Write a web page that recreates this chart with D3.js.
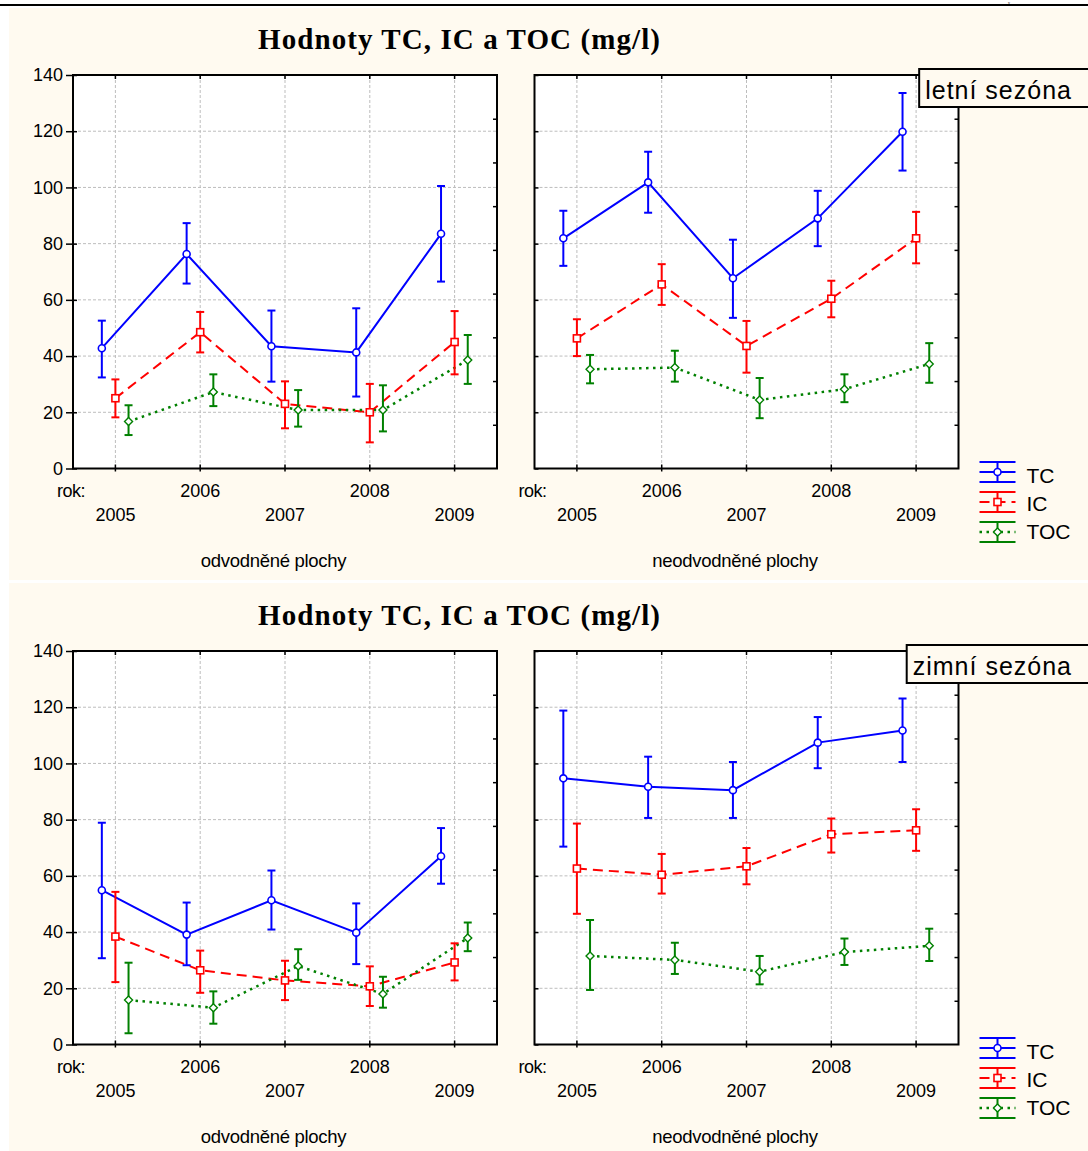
<!DOCTYPE html>
<html>
<head>
<meta charset="utf-8">
<script src="https://cdn.jsdelivr.net/npm/d3@7"></script>
<style>
  body { margin: 0; background: #fff; }
  svg text { font-family: "Liberation Sans", Arial, sans-serif; fill: #000; }
</style>
</head>
<body>
<svg id="chart" width="1088" height="1151"></svg>
<script>
// ---- data ----
const years = [2005, 2006, 2007, 2008, 2009];
const yTicks = [0, 20, 40, 60, 80, 100, 120, 140];
const gridValues = [20, 40, 60, 80, 100, 120];
const seriesNames = ["TC", "IC", "TOC"];
const seasonLabels = ["letní sezóna", "zimní sezóna"];
const areaLabels = ["odvodněné plochy", "neodvodněné plochy"];
const chartTitle = "Hodnoty TC, IC a TOC (mg/l)";

// summer season, drained plots
const letniOdvTC = [42.8, 76.3, 43.5, 41.3, 83.5];
const letniOdvTCLo = [32.4, 65.8, 30.9, 25.6, 66.5];
const letniOdvTCHi = [52.6, 87.3, 56.2, 57.0, 100.5];
const letniOdvIC = [25.0, 48.5, 23.0, 20.0, 45.0];
const letniOdvICLo = [18.2, 41.3, 14.3, 9.3, 33.5];
const letniOdvICHi = [31.7, 55.7, 31.0, 30.1, 56.0];
const letniOdvTOC = [16.7, 27.2, 20.8, 20.8, 38.6];
const letniOdvTOCLo = [11.9, 22.2, 14.9, 13.2, 30.1];
const letniOdvTOCHi = [22.5, 33.5, 27.9, 29.6, 47.5];

// summer season, undrained plots
const letniNeoTC = [81.9, 101.8, 67.7, 89.0, 119.8];
const letniNeoTCLo = [72.1, 91.0, 53.6, 79.1, 106.0];
const letniNeoTCHi = [91.7, 112.7, 81.4, 98.8, 133.6];
const letniNeoIC = [46.3, 65.5, 43.6, 60.4, 81.9];
const letniNeoICLo = [40.0, 58.2, 34.1, 53.8, 73.0];
const letniNeoICHi = [53.1, 72.7, 52.5, 66.8, 91.3];
const letniNeoTOC = [35.3, 35.9, 24.4, 28.2, 37.2];
const letniNeoTOCLo = [30.3, 30.9, 17.9, 23.6, 30.5];
const letniNeoTOCHi = [40.4, 41.9, 32.2, 33.5, 44.6];

// winter season, drained plots
const zimniOdvTC = [54.9, 39.1, 51.3, 39.8, 67.0];
const zimniOdvTCLo = [30.7, 28.2, 40.9, 28.6, 57.2];
const zimniOdvTCHi = [78.9, 50.5, 61.9, 50.2, 77.0];
const zimniOdvIC = [38.4, 26.4, 22.8, 20.7, 29.2];
const zimniOdvICLo = [22.2, 18.4, 15.8, 13.7, 22.8];
const zimniOdvICHi = [54.3, 33.4, 29.8, 27.8, 36.0];
const zimniOdvTOC = [15.8, 13.1, 27.9, 18.0, 37.9];
const zimniOdvTOCLo = [4.0, 7.4, 23.0, 13.1, 33.2];
const zimniOdvTOCHi = [29.1, 18.9, 33.9, 24.1, 43.4];

// winter season, undrained plots
const zimniNeoTC = [94.7, 91.7, 90.5, 107.4, 111.7];
const zimniNeoTCLo = [70.4, 80.6, 80.6, 98.3, 100.5];
const zimniNeoTCHi = [118.8, 102.4, 100.5, 116.5, 123.1];
const zimniNeoIC = [62.6, 60.4, 63.4, 74.8, 76.2];
const zimniNeoICLo = [46.5, 53.7, 57.0, 68.3, 68.9];
const zimniNeoICHi = [78.6, 67.8, 69.9, 80.4, 83.7];
const zimniNeoTOC = [31.5, 30.1, 25.9, 32.9, 35.1];
const zimniNeoTOCLo = [19.4, 25.1, 21.4, 28.3, 29.7];
const zimniNeoTOCHi = [44.3, 36.2, 31.5, 37.7, 41.2];

function trio(tc, tcLo, tcHi, ic, icLo, icHi, toc, tocLo, tocHi) {
  return [
    { name: "TC", mean: tc, lo: tcLo, hi: tcHi },
    { name: "IC", mean: ic, lo: icLo, hi: icHi },
    { name: "TOC", mean: toc, lo: tocLo, hi: tocHi }
  ];
}

const panelData = [
  [
    trio(letniOdvTC, letniOdvTCLo, letniOdvTCHi, letniOdvIC, letniOdvICLo, letniOdvICHi, letniOdvTOC, letniOdvTOCLo, letniOdvTOCHi),
    trio(letniNeoTC, letniNeoTCLo, letniNeoTCHi, letniNeoIC, letniNeoICLo, letniNeoICHi, letniNeoTOC, letniNeoTOCLo, letniNeoTOCHi)
  ],
  [
    trio(zimniOdvTC, zimniOdvTCLo, zimniOdvTCHi, zimniOdvIC, zimniOdvICLo, zimniOdvICHi, zimniOdvTOC, zimniOdvTOCLo, zimniOdvTOCHi),
    trio(zimniNeoTC, zimniNeoTCLo, zimniNeoTCHi, zimniNeoIC, zimniNeoICLo, zimniNeoICHi, zimniNeoTOC, zimniNeoTOCLo, zimniNeoTOCHi)
  ]
];

// ---- styles / layout ----
const styles = {
  TC: { color: "#0000ff", dash: null, width: 2, marker: "circle", offset: -0.16 },
  IC: { color: "#ff0000", dash: "10,6", width: 2, marker: "square", offset: 0 },
  TOC: { color: "#008000", dash: "2.5,4.5", width: 2.5, marker: "diamond", offset: 0.155 }
};
const CREAM = "#fffaf0";
const PANEL_DY = 576;
const plotX0 = [73, 534.5];
const plotW = 424;
const plotTop = 75, plotBottom = 468.5;

const svg = d3.select("#chart");

// top rule of the page + small glyph above it
svg.append("line")
  .attr("x1", 0).attr("x2", 1088).attr("y1", 5).attr("y2", 5)
  .attr("stroke", "#000").attr("stroke-width", 2);
svg.append("text")
  .attr("x", 1008).attr("y", 3.8)
  .style("font-family", '"Liberation Serif", serif')
  .style("font-size", "4px")
  .text("y");

function drawMarker(sel, type, cx, cy, color) {
  if (type == "circle") {
    sel.append("circle").attr("cx", cx).attr("cy", cy).attr("r", 3.5)
      .attr("fill", "#fff").attr("stroke", color).attr("stroke-width", 1.6);
  } else if (type == "square") {
    sel.append("rect").attr("x", cx - 3.5).attr("y", cy - 3.5)
      .attr("width", 7).attr("height", 7)
      .attr("fill", "#fff").attr("stroke", color).attr("stroke-width", 1.6);
  } else {
    const r = 4;
    sel.append("path")
      .attr("d", `M${cx},${cy - r}L${cx + r},${cy}L${cx},${cy + r}L${cx - r},${cy}Z`)
      .attr("fill", "#fff").attr("stroke", color).attr("stroke-width", 1.4);
  }
}

function styleAxis(a) {
  a.select(".domain").remove();
  a.selectAll(".tick line").attr("stroke", "#000").attr("stroke-width", 1.5);
  a.selectAll("text").style("font-size", "18px")
    .style("font-family", '"Liberation Sans", Arial, sans-serif');
}

function drawPlot(g, dy, x0, area, series) {
  const x = d3.scaleBand().domain(years).range([x0, x0 + plotW]).padding(0);
  const y = d3.scaleLinear().domain([0, 140]).range([plotBottom + dy, plotTop + dy]);
  const y2 = d3.scaleLinear().domain([0, 9]).range([plotBottom + dy, plotTop + dy]);
  const bw = x.bandwidth();
  const xc = (d) => x(d) + bw / 2;

  g.append("rect")
    .attr("x", x0).attr("y", y(140))
    .attr("width", plotW).attr("height", y(0) - y(140))
    .attr("fill", "#fff");

  // grid
  g.selectAll(null).data(gridValues).enter().append("line")
    .attr("x1", x0).attr("x2", x0 + plotW)
    .attr("y1", (d) => y(d)).attr("y2", (d) => y(d))
    .attr("stroke", "#bdbdbd").attr("stroke-width", 1).attr("stroke-dasharray", "3,2");
  g.selectAll(null).data(years).enter().append("line")
    .attr("x1", (d) => xc(d)).attr("x2", (d) => xc(d))
    .attr("y1", y(140)).attr("y2", y(0))
    .attr("stroke", "#bdbdbd").attr("stroke-width", 1).attr("stroke-dasharray", "3,2");

  // series lines
  series.forEach(function (sr) {
    const st = styles[sr.name];
    const off = st.offset * bw;
    const pts = years.map((yr, i) => ({ x: xc(yr) + off, m: sr.mean[i], lo: sr.lo[i], hi: sr.hi[i] }));
    sr.pts = pts;
    g.append("path")
      .datum(pts)
      .attr("d", d3.line().x((d) => d.x).y((d) => y(d.m)))
      .attr("fill", "none")
      .attr("stroke", st.color)
      .attr("stroke-width", st.width)
      .attr("stroke-dasharray", st.dash);
  });

  // error bars + markers
  series.forEach(function (sr) {
    const st = styles[sr.name];
    const eg = g.append("g").attr("stroke", st.color).attr("stroke-width", 2);
    sr.pts.forEach(function (d) {
      eg.append("line").attr("x1", d.x).attr("x2", d.x).attr("y1", y(d.lo)).attr("y2", y(d.hi));
      eg.append("line").attr("x1", d.x - 4).attr("x2", d.x + 4).attr("y1", y(d.lo)).attr("y2", y(d.lo));
      eg.append("line").attr("x1", d.x - 4).attr("x2", d.x + 4).attr("y1", y(d.hi)).attr("y2", y(d.hi));
    });
  });
  series.forEach(function (sr) {
    const st = styles[sr.name];
    sr.pts.forEach((d) => drawMarker(g, st.marker, d.x, y(d.m), st.color));
  });

  // frame
  g.append("rect")
    .attr("x", x0).attr("y", y(140))
    .attr("width", plotW).attr("height", y(0) - y(140))
    .attr("fill", "none").attr("stroke", "#000").attr("stroke-width", 2);

  // left axis
  if (area == 0) {
    const la = g.append("g").attr("transform", `translate(${x0},0)`)
      .call(d3.axisLeft(y).tickValues(yTicks).tickSize(7).tickPadding(3));
    styleAxis(la);
  }
  const li = g.append("g").attr("transform", `translate(${x0},0)`)
    .call(d3.axisRight(y).tickValues(yTicks).tickSize(4).tickFormat(""));
  styleAxis(li);

  // right axis (minor scale, no labels)
  const ra = g.append("g").attr("transform", `translate(${x0 + plotW},0)`)
    .call(d3.axisLeft(y2).tickValues([1, 2, 3, 4, 5, 6, 7, 8]).tickSize(4).tickFormat(""));
  styleAxis(ra);

  // top and bottom ticks
  const ta = g.append("g").attr("transform", `translate(0,${y(140)})`)
    .call(d3.axisBottom(x).tickSize(4).tickFormat(""));
  styleAxis(ta);
  const ba = g.append("g").attr("transform", `translate(0,${y(0)})`)
    .call(d3.axisBottom(x).tickSize(3).tickFormat(""));
  styleAxis(ba);
  const bi = g.append("g").attr("transform", `translate(0,${y(0)})`)
    .call(d3.axisTop(x).tickSize(4).tickFormat(""));
  styleAxis(bi);

  // staggered year labels
  g.selectAll(null).data(years).enter().append("text")
    .attr("x", (d) => xc(d))
    .attr("y", (d, i) => (i % 2 == 0 ? 521 : 497) + dy)
    .attr("text-anchor", "middle")
    .style("font-size", "18px")
    .text((d) => d);
  g.append("text")
    .attr("x", x0 - 16).attr("y", 497 + dy)
    .style("font-size", "18px")
    .style("letter-spacing", "-0.5px")
    .text("rok:");

  g.append("text")
    .attr("x", x0 + plotW / 2 - 11.5).attr("y", 567 + dy)
    .attr("text-anchor", "middle")
    .style("font-size", "18.5px")
    .style("letter-spacing", "-0.3px")
    .text(areaLabels[area]);
}

function drawSeason(s) {
  const dy = s * PANEL_DY;
  const g = svg.append("g");

  g.append("rect")
    .attr("x", 9).attr("y", 8 + s * 575)
    .attr("width", 1079).attr("height", 572)
    .attr("fill", CREAM);

  g.append("text")
    .attr("x", 459).attr("y", 49 + dy)
    .attr("text-anchor", "middle")
    .attr("textLength", 402)
    .attr("lengthAdjust", "spacing")
    .style("font-family", '"Liberation Serif", "Times New Roman", serif')
    .style("font-weight", "bold")
    .style("font-size", "29px")
    .text(chartTitle);

  panelData[s].forEach((series, a) => drawPlot(g, dy, plotX0[a], a, series));

  // season label box
  const box = g.append("rect");
  const lab = g.append("text")
    .attr("x", 1072).attr("y", 99 + dy)
    .attr("text-anchor", "end")
    .style("font-size", "25px")
    .style("letter-spacing", "1px")
    .text(seasonLabels[s]);
  const len = lab.node().getComputedTextLength();
  box.attr("x", 1072 - len - 6).attr("y", 69 + dy)
    .attr("width", len + 60).attr("height", 38)
    .attr("fill", CREAM).attr("stroke", "#000").attr("stroke-width", 2);

  // legend
  const cx = 997.5;
  seriesNames.forEach(function (name, i) {
    const st = styles[name];
    const cy = 472 + 30 * i + dy;
    const lg = g.append("g");
    const cg = lg.append("g").attr("stroke", st.color).attr("stroke-width", 2);
    cg.append("line").attr("x1", cx - 18).attr("x2", cx + 18).attr("y1", cy - 10).attr("y2", cy - 10);
    cg.append("line").attr("x1", cx - 18).attr("x2", cx + 18).attr("y1", cy + 10).attr("y2", cy + 10);
    cg.append("line").attr("x1", cx).attr("x2", cx).attr("y1", cy - 10).attr("y2", cy + 10);
    lg.append("line")
      .attr("x1", cx - 18).attr("x2", cx + 18).attr("y1", cy).attr("y2", cy)
      .attr("stroke", st.color).attr("stroke-width", st.width)
      .attr("stroke-dasharray", st.dash);
    drawMarker(lg, st.marker, cx, cy, st.color);
    lg.append("text")
      .attr("x", 1026.5).attr("y", 482.5 + 28 * i + dy)
      .style("font-size", "21px")
      .text(name);
  });
}

[0, 1].forEach(drawSeason);
</script>
</body>
</html>
